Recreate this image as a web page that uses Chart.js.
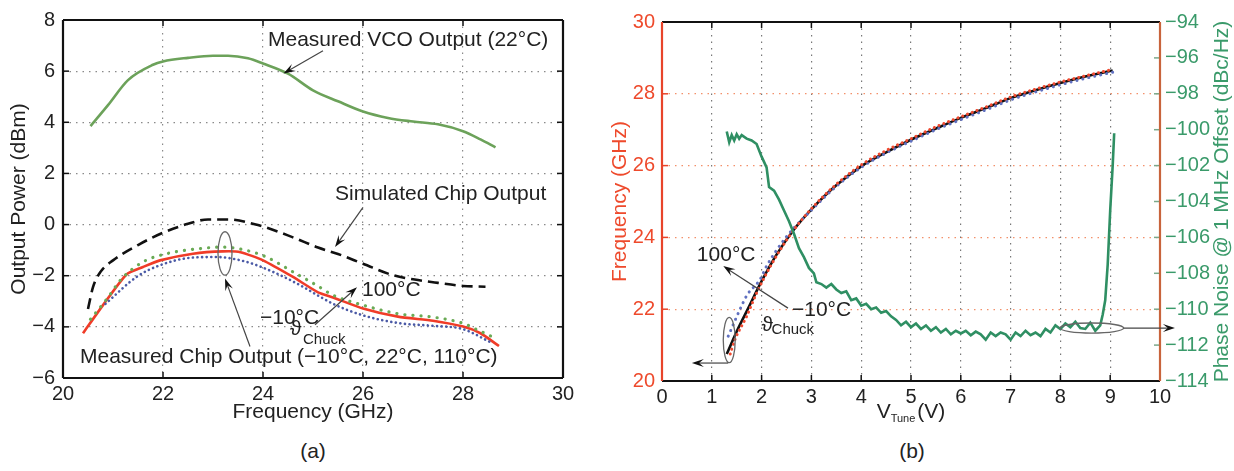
<!DOCTYPE html>
<html><head><meta charset="utf-8">
<script src="https://cdn.jsdelivr.net/npm/chart.js@4/dist/chart.umd.min.js"></script>
<style>
html,body{margin:0;padding:0;background:#fff;width:1234px;height:471px;overflow:hidden;font-family:"Liberation Sans",Arial,Helvetica,sans-serif;}
#c1{position:absolute;left:0;top:0;}
#c2{position:absolute;left:600px;top:0;}
.cap{position:absolute;top:439px;width:100px;text-align:center;font-size:21px;line-height:24px;color:#222;}
</style></head><body>
<canvas id="c1" width="600" height="430"></canvas>
<canvas id="c2" width="634" height="430"></canvas>
<div class="cap" style="left:263px">(a)</div>
<div class="cap" style="left:862px">(b)</div>
<script>
// ---------- (a) data ----------
const freqTicksA = [20, 22, 24, 26, 28, 30];
const powerTicksA = [-6, -4, -2, 0, 2, 4, 6, 8];
const vcoFreq  = [20.55, 20.9, 21.3, 21.8, 22.0, 22.5, 23.0, 23.3, 23.7, 24.0, 24.5, 25.0, 25.5, 26.0, 26.5, 27.0, 27.5, 28.0, 28.35, 28.65];
const vcoPower = [3.85, 4.67, 5.65, 6.25, 6.38, 6.52, 6.6, 6.6, 6.5, 6.3, 5.9, 5.25, 4.82, 4.42, 4.17, 4.03, 3.92, 3.65, 3.33, 3.02];
const simFreq  = [20.5, 20.6, 20.75, 21.0, 21.5, 22.0, 22.5, 22.9, 23.3, 23.9, 24.6, 25.1, 25.5, 26.0, 26.6, 27.1, 27.5, 28.0, 28.45];
const simPower = [-3.3, -2.45, -1.85, -1.4, -0.8, -0.32, 0.03, 0.2, 0.2, -0.02, -0.5, -0.9, -1.15, -1.53, -1.98, -2.17, -2.28, -2.4, -2.43];
const chip22Freq  = [20.4, 20.8, 21.27, 21.6, 21.94, 22.6, 23.2, 23.55, 24.0, 24.6, 25.1, 25.4, 26.0, 26.7, 27.4, 28.0, 28.35, 28.72];
const chip22Power = [-4.25, -3.15, -1.95, -1.66, -1.4, -1.14, -1.05, -1.08, -1.4, -2.05, -2.65, -2.85, -3.28, -3.6, -3.76, -3.99, -4.25, -4.75];
const chip110Freq  = [20.55, 20.9, 21.15, 21.6, 22.07, 22.74, 23.2, 23.67, 24.07, 24.6, 25.07, 25.4, 26.0, 26.74, 27.4, 28.0, 28.27, 28.6];
const chip110Power = [-3.7, -2.85, -2.17, -1.46, -1.14, -0.94, -0.88, -1.01, -1.27, -1.85, -2.37, -2.76, -3.15, -3.5, -3.62, -3.86, -4.1, -4.4];
const chipM10Freq  = [20.85, 21.47, 21.94, 22.6, 23.07, 23.67, 24.2, 24.74, 25.14, 25.4, 26.0, 26.74, 27.4, 28.0, 28.55];
const chipM10Power = [-3.1, -2.05, -1.59, -1.29, -1.27, -1.46, -1.85, -2.37, -2.82, -3.1, -3.55, -3.86, -3.96, -4.09, -4.6];

// ---------- (b) data ----------
const vTicksB = [0, 1, 2, 3, 4, 5, 6, 7, 8, 9, 10];
const fTicksB = [20, 22, 24, 26, 28, 30];
const pnTicksB = [-114, -112, -110, -108, -106, -104, -102, -100, -98, -96, -94];
const tune22V = [1.3, 1.5, 1.75, 2.0, 2.3, 2.65, 3.0, 3.5, 4.0, 4.5, 5.0, 5.5, 6.0, 6.5, 7.0, 7.5, 8.0, 8.5, 9.05];
const tune22F = [20.75, 21.38, 22.08, 22.78, 23.52, 24.22, 24.78, 25.45, 25.98, 26.37, 26.72, 27.03, 27.33, 27.6, 27.88, 28.1, 28.3, 28.48, 28.65];
const tuneM10V = [1.37, 1.47, 1.7, 1.9, 2.2, 2.6, 3.0, 3.5, 4.0, 4.5, 5.0, 5.5, 6.0, 6.5, 7.0, 7.5, 8.0, 8.5, 9.05];
const tuneM10F = [20.75, 21.17, 21.8, 22.45, 23.25, 24.12, 24.8, 25.48, 26.02, 26.42, 26.75, 27.08, 27.36, 27.63, 27.91, 28.13, 28.33, 28.5, 28.68];
const tune100V = [1.33, 1.6, 1.71, 1.97, 2.1, 2.5, 3.0, 3.5, 4.0, 4.5, 5.0, 5.5, 6.0, 6.5, 7.0, 7.5, 8.0, 8.5, 9.05];
const tune100F = [21.25, 22.1, 22.4, 22.83, 23.2, 24.02, 24.76, 25.42, 25.95, 26.35, 26.68, 27.0, 27.28, 27.55, 27.83, 28.05, 28.25, 28.43, 28.6];
const pnV = [1.3, 1.35, 1.4, 1.45, 1.5, 1.55, 1.6, 1.7, 1.8, 1.9, 2.0, 2.1, 2.15, 2.25, 2.35, 2.45, 2.55, 2.65, 2.75, 2.85, 2.95, 3.05, 3.1, 3.2, 3.3, 3.4, 3.5, 3.6, 3.7, 3.8, 3.9, 4.0, 4.1, 4.2, 4.3, 4.4, 4.5, 4.6, 4.7, 4.8, 4.9, 5.0, 5.1, 5.2, 5.3, 5.4, 5.5, 5.6, 5.7, 5.8, 5.9, 6.0, 6.1, 6.2, 6.3, 6.4, 6.5, 6.6, 6.7, 6.8, 6.9, 7.0, 7.1, 7.2, 7.3, 7.4, 7.5, 7.6, 7.7, 7.8, 7.9, 8.0, 8.1, 8.2, 8.3, 8.4, 8.5, 8.6, 8.7, 8.8, 8.85, 8.9, 8.95, 9.0, 9.05, 9.08];
const pnVal = [-100.1, -100.7, -100.3, -100.6, -100.25, -100.5, -100.3, -100.5, -100.6, -100.8, -101.5, -102.1, -103.2, -103.4, -103.9, -104.5, -105.1, -105.8, -106.6, -107.1, -107.7, -108.0, -108.5, -108.6, -108.8, -108.6, -108.9, -109.1, -109.0, -109.5, -109.4, -109.8, -109.7, -110.0, -109.9, -110.2, -110.1, -110.4, -110.6, -110.9, -110.7, -111.0, -110.8, -111.1, -110.9, -111.2, -111.0, -111.3, -111.1, -111.4, -111.2, -111.35, -111.2, -111.45, -111.25, -111.4, -111.7, -111.3, -111.5, -111.3, -111.4, -111.7, -111.3, -111.5, -111.2, -111.45, -111.3, -111.5, -111.1, -111.3, -110.9, -111.1, -110.8, -111.0, -110.7, -111.05, -111.1, -110.75, -111.2, -110.9, -110.3, -109.5, -107.5, -104.5, -102.0, -100.2];

// ---------- text ----------
const yTitleA = 'Output Power (dBm)';
const xTitleA = 'Frequency (GHz)';
const yTitleB = 'Frequency (GHz)';
const y2TitleB = 'Phase Noise @ 1 MHz Offset (dBc/Hz)';
const xTitleB = ['V', 'Tune', '(V)'];

const FAMILY = '"Liberation Sans", Arial, Helvetica, sans-serif';
const pts = (xs, ys) => xs.map((x, i) => ({x, y: ys[i]}));
const minus = v => String(v).replace('-', '\u2212');

// annotations (positions in data units)
const annA = [
  {type:'text', text:'Measured VCO Output (22°C)', x:24.1, y:7.22},
  {type:'arrow', x1:25.2, y1:6.8, x2:24.41, y2:5.91},
  {type:'text', text:'Simulated Chip Output', x:25.44, y:1.17},
  {type:'arrow', x1:26.0, y1:0.67, x2:25.44, y2:-0.88},
  {type:'ellipse', x:23.24, y:-1.13, rx:0.14, ry:0.85},
  {type:'arrow', x1:23.74, y1:-4.77, x2:23.24, y2:-2.11},
  {type:'text', text:'100°C', x:25.98, y:-2.56},
  {type:'arrow', x1:25.04, y1:-3.92, x2:25.88, y2:-2.45},
  {type:'text', text:'\u221210°C', x:23.94, y:-3.65},
  {type:'text', text:'\u03D1', x:24.54, y:-4.1},
  {type:'text', text:'Chuck', x:24.8, y:-4.5, size:15},
  {type:'text', text:'Measured Chip Output (\u221210°C, 22°C, 110°C)', x:20.34, y:-5.2}
];
const annB = [
  {type:'text', text:'100°C', x:0.70, y:23.51},
  {type:'arrow', x1:2.53, y1:22.03, x2:1.23, y2:23.2},
  {type:'text', text:'\u221210°C', x:2.61, y:21.98},
  {type:'text', text:'\u03D1', x:2.0, y:21.56},
  {type:'text', text:'Chuck', x:2.2, y:21.42, size:15},
  {type:'ellipse', x:1.35, y:21.14, rx:0.12, ry:0.63},
  {type:'arrow', x1:1.33, y1:20.5, x2:0.6, y2:20.5},
  {type:'ellipse', axis:'y2', x:8.63, y:-111.05, rx:0.64, ry:0.28},
  {type:'arrow', axis:'y2', x1:9.27, y1:-111.05, x2:10.3, y2:-111.05}
];

function arrow(ctx, x1, y1, x2, y2) {
  const head = 12, w = 8;
  const a = Math.atan2(y2 - y1, x2 - x1), c = Math.cos(a), s = Math.sin(a);
  ctx.beginPath(); ctx.moveTo(x1, y1); ctx.lineTo(x2 - c * 6, y2 - s * 6); ctx.stroke();
  ctx.beginPath(); ctx.moveTo(x2, y2);
  ctx.lineTo(x2 - head * c + w / 2 * s, y2 - head * s - w / 2 * c);
  ctx.lineTo(x2 - head * 0.6 * c, y2 - head * 0.6 * s);
  ctx.lineTo(x2 - head * c - w / 2 * s, y2 - head * s + w / 2 * c);
  ctx.closePath(); ctx.fill();
}

const notesPlugin = {
  id: 'notes',
  afterDraw(chart, args, o) {
    const {ctx, scales} = chart;
    ctx.save();
    for (const it of o.items) {
      const ys = scales[it.axis || 'y'];
      const X = v => scales.x.getPixelForValue(v), Y = v => ys.getPixelForValue(v);
      if (it.type === 'text') {
        ctx.font = (it.size || 21) + 'px ' + FAMILY;
        ctx.fillStyle = '#222'; ctx.textAlign = 'left'; ctx.textBaseline = 'middle';
        ctx.fillText(it.text, X(it.x), Y(it.y));
      } else if (it.type === 'arrow') {
        ctx.strokeStyle = '#444'; ctx.fillStyle = '#111'; ctx.lineWidth = 1.2;
        arrow(ctx, X(it.x1), Y(it.y1), X(it.x2), Y(it.y2));
      } else if (it.type === 'ellipse') {
        const cx = X(it.x), cy = Y(it.y);
        const rx = Math.abs(X(it.x + it.rx) - cx), ry = Math.abs(Y(it.y + it.ry) - cy);
        ctx.strokeStyle = '#666'; ctx.lineWidth = 1.3;
        ctx.beginPath(); ctx.ellipse(cx, cy, rx, ry, 0, 0, Math.PI * 2); ctx.stroke();
      }
    }
    ctx.restore();
  }
};

const framePlugin = {
  id: 'frame',
  afterDatasetsDraw(chart, args, o) {
    const {ctx, chartArea: a, scales} = chart;
    const line = (x1, y1, x2, y2) => { ctx.beginPath(); ctx.moveTo(x1, y1); ctx.lineTo(x2, y2); ctx.stroke(); };
    const L = 6;
    ctx.save();
    ctx.lineWidth = 1.5;
    ctx.strokeStyle = o.xTickColor;
    o.xTicks.forEach(v => { const p = scales.x.getPixelForValue(v); line(p, a.bottom, p, a.bottom - L); line(p, a.top, p, a.top + L); });
    ctx.strokeStyle = o.yTickColor;
    o.yTicks.forEach(v => { const p = scales.y.getPixelForValue(v); line(a.left, p, a.left + L, p); if (o.yRight) line(a.right, p, a.right - L, p); });
    if (o.y2Ticks) { ctx.strokeStyle = o.y2TickColor; o.y2Ticks.forEach(v => { const p = scales.y2.getPixelForValue(v); line(a.right, p, a.right - L, p); }); }
    ctx.lineWidth = 2.2;
    ctx.strokeStyle = o.top; line(a.left, a.top, a.right, a.top);
    ctx.strokeStyle = o.bottom; line(a.left, a.bottom, a.right, a.bottom);
    ctx.strokeStyle = o.left; line(a.left, a.top, a.left, a.bottom);
    ctx.strokeStyle = o.right; line(a.right, a.top, a.right, a.bottom);
    ctx.restore();
  }
};

const titlesBPlugin = {
  id: 'titlesB',
  afterDraw(chart) {
    const {ctx, chartArea: a} = chart;
    const cy = (a.top + a.bottom) / 2;
    ctx.save();
    ctx.font = '21px ' + FAMILY; ctx.textAlign = 'center'; ctx.textBaseline = 'middle';
    ctx.fillStyle = '#ee4a2c';
    ctx.save(); ctx.translate(20, cy); ctx.rotate(-Math.PI / 2); ctx.fillText(yTitleB, 0, 0); ctx.restore();
    ctx.fillStyle = '#3a9a6a';
    ctx.save(); ctx.translate(622, cy); ctx.rotate(-Math.PI / 2); ctx.fillText(y2TitleB, 0, 0); ctx.restore();
    // x title with subscript
    ctx.fillStyle = '#222'; ctx.textAlign = 'left';
    const big = '21px ' + FAMILY, small = '11px ' + FAMILY;
    ctx.font = big; const w1 = ctx.measureText(xTitleB[0]).width, w3 = ctx.measureText(xTitleB[2]).width;
    ctx.font = small; const w2 = ctx.measureText(xTitleB[1]).width;
    const total = w1 + w2 + w3 + 2;
    let x = (a.left + a.right) / 2 - total / 2;
    const y = 412;
    ctx.font = big; ctx.fillText(xTitleB[0], x, y); x += w1;
    ctx.font = small; ctx.fillText(xTitleB[1], x, y + 7); x += w2 + 2;
    ctx.font = big; ctx.fillText(xTitleB[2], x, y);
    ctx.restore();
  }
};

const tickFont = {size: 20, family: FAMILY};
const titleFont = {size: 21, family: FAMILY};
const smooth = {tension: 0.4, cubicInterpolationMode: 'monotone'};

new Chart(document.getElementById('c1'), {
  type: 'scatter',
  data: {datasets: [
    {label: 'Simulated Chip Output', data: pts(simFreq, simPower), showLine: true, borderColor: '#111', borderWidth: 2.6, borderDash: [11, 6], pointRadius: 0, ...smooth},
    {label: 'Measured Chip Output (\u221210°C)', data: pts(chipM10Freq, chipM10Power), showLine: true, borderColor: '#4b5aa6', borderWidth: 2.6, borderDash: [0.1, 4.5], borderCapStyle: 'round', pointRadius: 0, ...smooth},
    {label: 'Measured Chip Output (110°C)', data: pts(chip110Freq, chip110Power), showLine: true, borderColor: '#6aaa55', borderWidth: 3.2, borderDash: [0.1, 8], borderCapStyle: 'round', pointRadius: 0, ...smooth},
    {label: 'Measured Chip Output (22°C)', data: pts(chip22Freq, chip22Power), showLine: true, borderColor: '#f03c28', borderWidth: 2.6, pointRadius: 0, tension: 0.2},
    {label: 'Measured VCO Output (22°C)', data: pts(vcoFreq, vcoPower), showLine: true, borderColor: '#6ca25a', borderWidth: 2.6, pointRadius: 0, ...smooth}
  ]},
  options: {
    responsive: false, animation: false, events: [],
    layout: {padding: {top: 18, right: 37, left: 0, bottom: 0}},
    plugins: {
      legend: {display: false}, tooltip: {enabled: false},
      frame: {xTicks: freqTicksA, yTicks: powerTicksA, yRight: true, xTickColor: '#111', yTickColor: '#111', top: '#111', bottom: '#111', left: '#111', right: '#111'},
      notes: {items: annA}
    },
    scales: {
      x: {type: 'linear', min: 20, max: 30,
        afterBuildTicks: s => { s.ticks = freqTicksA.map(v => ({value: v})); },
        afterFit: s => { s.height = 52; },
        grid: {color: '#8a8a8a', lineWidth: 1.2, drawTicks: false},
        border: {display: false, dash: [1.5, 5]},
        ticks: {color: '#222', font: tickFont, padding: 4, maxRotation: 0, callback: v => minus(v)},
        title: {display: true, text: xTitleA, color: '#222', font: titleFont, padding: {top: 0, bottom: 5}}
      },
      y: {type: 'linear', min: -6, max: 8,
        afterBuildTicks: s => { s.ticks = powerTicksA.map(v => ({value: v})); },
        afterFit: s => { s.width = 63; },
        grid: {color: '#8a8a8a', lineWidth: 1.2, drawTicks: false},
        border: {display: false, dash: [1.5, 5]},
        ticks: {color: '#222', font: tickFont, padding: 8, callback: v => minus(v)},
        title: {display: true, text: yTitleA, color: '#222', font: titleFont, padding: {top: 7, bottom: 0}}
      }
    }
  },
  plugins: [framePlugin, notesPlugin]
});

new Chart(document.getElementById('c2'), {
  type: 'scatter',
  data: {datasets: [
    {label: 'Phase Noise', yAxisID: 'y2', data: pts(pnV, pnVal), showLine: true, borderColor: '#2f8f63', borderWidth: 2.6, pointRadius: 0, tension: 0},
    {label: 'Frequency (\u221210°C)', yAxisID: 'y', data: pts(tuneM10V, tuneM10F), showLine: true, borderColor: '#f04a30', borderWidth: 3, borderDash: [0.1, 5], borderCapStyle: 'round', pointRadius: 0, ...smooth},
    {label: 'Frequency (100°C)', yAxisID: 'y', data: pts(tune100V, tune100F), showLine: true, borderColor: '#6070c0', borderWidth: 3, borderDash: [0.1, 6], borderCapStyle: 'round', pointRadius: 0, ...smooth},
    {label: 'Frequency (22°C)', yAxisID: 'y', data: pts(tune22V, tune22F), showLine: true, borderColor: '#111', borderWidth: 2.6, pointRadius: 0, ...smooth}
  ]},
  options: {
    responsive: false, animation: false, events: [],
    layout: {padding: {top: 22, right: 0, left: 0, bottom: 0}},
    plugins: {
      legend: {display: false}, tooltip: {enabled: false},
      frame: {xTicks: vTicksB, yTicks: fTicksB, yRight: false, y2Ticks: pnTicksB, xTickColor: '#111', yTickColor: '#e8442a', y2TickColor: '#7aa88a', top: '#111', bottom: '#111', left: '#e8442a', right: '#c8643c'},
      notes: {items: annB}
    },
    scales: {
      x: {type: 'linear', min: 0, max: 10,
        afterBuildTicks: s => { s.ticks = vTicksB.map(v => ({value: v})); },
        afterFit: s => { s.height = 49; },
        grid: {color: '#777', lineWidth: 1.2, drawTicks: false},
        border: {display: false, dash: [1.5, 5]},
        ticks: {color: '#222', font: tickFont, padding: 4, maxRotation: 0}
      },
      y: {type: 'linear', position: 'left', min: 20, max: 30,
        afterBuildTicks: s => { s.ticks = fTicksB.map(v => ({value: v})); },
        afterFit: s => { s.width = 62; },
        grid: {color: '#f3906a', lineWidth: 1.3, drawTicks: false},
        border: {display: false, dash: [1.5, 5]},
        ticks: {color: '#ee4a2c', font: tickFont, padding: 7}
      },
      y2: {type: 'linear', position: 'right', min: -114, max: -94,
        afterBuildTicks: s => { s.ticks = pnTicksB.map(v => ({value: v})); },
        afterFit: s => { s.width = 74; },
        grid: {drawOnChartArea: false, drawTicks: false},
        border: {display: false},
        ticks: {color: '#3a9a6a', font: tickFont, padding: 5, callback: v => minus(v)}
      }
    }
  },
  plugins: [framePlugin, notesPlugin, titlesBPlugin]
});
</script>
</body></html>
